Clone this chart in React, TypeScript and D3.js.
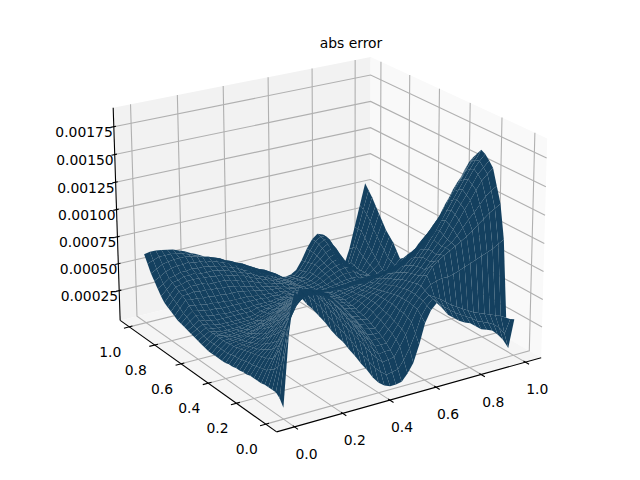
import React from "react";
import * as d3 from "d3";

const xTicks = [0, 0.2, 0.4, 0.6, 0.8, 1.0];
const yTicks = [0, 0.2, 0.4, 0.6, 0.8, 1.0];
const zTicks = [0.00025, 0.0005, 0.00075, 0.001, 0.00125, 0.0015, 0.00175];
const zTickLabels = ["0.00025", "0.00050", "0.00075", "0.00100", "0.00125", "0.00150", "0.00175"];
const xyTickLabels = ["0.0", "0.2", "0.4", "0.6", "0.8", "1.0"];
const gridX = d3.range(41).map((i) => i / 40);
const gridY = d3.range(41).map((i) => i / 40);
// abs error, in units of 1e-5; rows are y = 0..1, columns x = 0..1
const errorRows = [
  [7,69,104,98,91,85,78,71,63,56,50,42,35,27,20,12,6,2,0,0,1,7,15,30,48,58,63,57,50,46,42,39,37,33,29,27,25,20,14,5,30],
  [13,52,88,94,98,94,88,82,74,67,60,53,46,38,31,24,17,12,8,9,10,17,26,38,52,60,65,60,55,51,47,44,41,38,34,32,30,27,23,16,28],
  [16,40,68,85,100,98,96,90,83,76,69,62,55,48,42,35,28,22,17,18,19,27,36,46,56,62,66,63,60,56,52,49,46,43,40,38,36,34,32,30,27],
  [16,35,58,74,88,92,95,91,87,81,75,68,61,54,48,41,34,28,22,23,23,31,39,48,57,63,68,72,74,75,75,76,78,80,82,84,86,88,90,93,96],
  [16,30,46,60,76,85,93,92,90,85,80,74,67,60,53,46,39,33,27,27,27,34,41,50,58,64,70,78,85,89,92,95,98,101,104,108,112,116,120,123,126],
  [16,28,40,52,66,75,84,86,88,85,82,76,70,63,56,49,42,36,30,30,30,36,42,50,58,64,70,76,82,86,91,96,99,104,110,116,121,127,133,137,140],
  [15,25,34,44,55,65,75,80,85,84,83,78,73,67,60,53,45,39,33,32,32,38,44,51,58,64,69,74,78,84,89,95,100,108,115,123,130,138,145,150,154],
  [15,24,32,40,48,58,68,74,80,80,81,78,74,68,62,54,47,42,36,35,34,40,45,52,58,63,68,73,78,84,90,96,102,110,118,126,133,141,149,154,159],
  [15,23,30,36,42,51,60,68,75,77,79,77,74,69,63,56,49,44,38,37,36,41,46,52,57,62,67,72,77,84,90,97,104,112,120,128,136,144,152,158,163],
  [15,22,29,34,39,47,55,62,69,72,75,74,73,69,64,57,50,45,40,39,38,43,47,52,56,61,66,71,76,82,88,95,102,110,118,126,134,142,150,157,165],
  [14,21,28,32,36,43,49,56,62,67,71,71,71,68,64,58,51,46,41,40,39,44,48,52,55,60,64,69,74,80,86,93,100,108,115,123,131,139,147,154,160],
  [14,21,27,30,34,40,45,52,57,62,66,67,68,66,64,58,52,48,43,42,40,44,48,52,54,58,62,67,72,77,83,88,94,102,108,115,123,131,139,147,155],
  [13,20,26,28,31,36,41,47,52,57,61,63,65,64,63,58,53,49,44,43,41,45,48,51,53,57,61,65,69,74,79,84,88,95,102,108,115,123,130,140,149],
  [13,19,25,27,29,33,38,43,48,52,56,59,62,62,61,57,53,50,45,44,42,45,48,50,52,55,59,62,66,70,74,79,82,89,95,101,107,114,121,131,141],
  [12,18,24,26,27,30,34,39,43,48,52,55,58,59,59,56,53,50,46,44,42,45,47,49,51,54,57,60,63,67,70,74,77,83,88,94,100,106,112,122,132],
  [12,18,23,24,26,28,31,36,40,44,48,51,54,56,56,54,52,50,47,45,43,45,46,48,50,52,55,58,60,63,66,68,70,75,80,85,91,97,102,113,125],
  [11,17,22,23,24,27,29,33,36,40,44,48,51,52,53,52,51,49,47,45,43,45,46,48,49,51,53,55,57,59,61,62,62,67,72,77,83,88,92,104,117],
  [11,16,21,22,23,25,27,30,33,36,40,44,47,48,50,50,50,48,46,45,43,44,45,46,48,50,51,52,54,56,57,58,58,62,66,71,75,80,84,95,108],
  [11,16,21,22,22,24,25,28,30,33,36,40,43,45,47,48,48,47,46,45,43,44,44,45,46,48,49,50,51,52,53,54,55,58,61,65,68,72,75,87,100],
  [11,16,20,21,21,22,23,25,27,30,32,36,39,41,44,45,46,46,45,44,42,43,43,44,44,46,47,48,48,48,49,50,51,53,55,58,61,65,69,80,91],
  [11,16,20,20,20,20,21,22,24,26,29,32,35,38,40,42,43,44,44,43,41,42,42,43,43,44,45,45,45,45,45,46,47,48,50,52,55,59,63,72,82],
  [11,16,20,20,19,19,20,21,22,24,26,28,31,34,36,38,40,41,41,40,39,39,39,40,40,41,41,42,42,42,42,42,43,44,46,48,50,53,57,66,75],
  [12,16,20,19,18,18,19,19,20,21,23,25,28,30,33,35,37,38,39,38,37,37,37,37,37,37,38,38,38,38,38,38,39,40,41,43,45,48,52,60,68],
  [13,16,20,18,18,18,18,18,19,20,21,23,25,28,30,32,34,35,36,36,34,34,34,34,34,34,34,34,34,34,34,34,35,36,37,38,40,43,46,54,62],
  [14,17,20,18,17,17,17,17,18,18,19,21,23,25,27,29,31,32,33,33,32,32,31,30,30,30,30,30,30,30,30,30,31,32,33,34,36,38,41,48,56],
  [15,18,21,19,18,18,18,18,18,18,18,20,22,24,25,26,28,29,30,30,30,29,28,28,27,26,26,26,26,26,26,26,28,28,30,30,32,34,36,42,50],
  [16,19,22,20,19,18,18,18,18,18,18,19,21,22,23,24,26,27,28,27,27,26,26,25,24,23,23,23,23,23,23,23,24,25,26,27,28,29,31,37,43],
  [17,20,24,22,21,20,20,20,20,20,20,20,22,22,22,23,24,25,26,25,25,24,24,22,22,20,20,20,20,20,21,21,22,22,23,24,24,25,26,32,38],
  [18,22,26,24,23,22,22,21,21,21,21,21,22,22,22,22,23,23,24,23,23,22,22,20,19,18,18,18,18,18,19,19,19,19,20,20,21,21,21,27,34],
  [19,24,28,27,26,25,25,24,24,24,24,24,24,24,24,23,24,23,24,22,22,21,20,18,18,16,16,17,18,18,19,19,19,18,18,18,18,18,18,24,29],
  [20,25,31,30,29,28,28,27,27,26,26,26,26,25,25,24,24,23,23,22,21,20,19,17,16,15,15,16,17,18,19,19,19,17,16,15,14,15,16,21,26],
  [22,28,34,33,33,32,32,31,31,30,30,30,29,28,27,26,25,24,24,22,21,20,18,16,15,14,15,16,18,20,22,22,22,18,16,14,12,14,15,23,32],
  [24,30,36,36,37,36,36,35,35,34,34,33,32,30,29,27,26,25,24,22,21,19,18,16,14,14,15,17,20,22,24,25,24,20,17,13,10,12,14,25,38],
  [26,32,38,38,40,40,40,38,38,38,38,36,35,33,32,30,28,26,25,23,22,20,18,16,14,14,15,18,21,24,26,27,26,21,17,12,10,14,18,30,42],
  [28,34,40,41,43,43,43,42,42,41,41,39,38,36,35,32,30,28,26,24,22,20,18,15,13,14,15,18,22,25,28,29,28,22,17,12,10,16,22,34,46],
  [32,37,42,43,45,45,46,44,44,44,43,42,40,38,36,34,32,29,27,24,22,20,18,15,12,14,14,18,23,26,30,32,31,23,16,11,10,18,26,39,52],
  [37,40,44,45,47,47,48,47,47,46,45,44,42,40,38,35,33,30,28,25,23,20,18,15,12,13,14,18,24,28,33,35,34,24,14,10,10,20,30,44,58],
  [42,45,48,50,51,51,52,50,50,48,48,46,44,42,40,36,34,32,29,26,24,21,18,15,12,12,12,16,23,29,35,38,36,25,13,10,11,23,35,50,64],
  [47,50,53,54,55,55,55,54,53,51,50,48,46,43,41,38,36,33,30,27,25,22,19,15,11,11,11,15,22,30,37,40,39,26,12,9,12,26,40,55,70],
  [54,56,58,58,58,57,56,54,52,50,48,46,44,40,38,36,33,30,26,23,20,18,16,13,10,10,10,14,21,30,38,41,40,28,15,8,8,23,40,58,75],
  [61,62,62,61,60,59,57,55,52,50,47,44,41,38,36,33,30,26,23,19,16,14,13,11,9,8,9,12,20,30,38,42,40,30,18,8,5,20,40,60,80],
];

const boxCorners = [
  [0, 0, 0, 277, 432],
  [1, 0, 0, 541, 358],
  [0, 1, 0, 120, 320],
  [0, 1, 1, 113, 108],
  [1, 0, 1, 547, 138],
  [1, 1, 1, 371, 57],
];

function solveProjection(): number[] {
  const rows: number[][] = [];
  const rhs: number[] = [];
  for (const [X, Y, Z, u, v] of boxCorners) {
    rows.push([X, Y, Z, 1, 0, 0, 0, 0, -u * X, -u * Y, -u * Z]);
    rhs.push(u);
    rows.push([0, 0, 0, 0, X, Y, Z, 1, -v * X, -v * Y, -v * Z]);
    rhs.push(v);
  }
  const n = 11;
  const A = d3.range(n).map((i) =>
    d3.range(n + 1).map((j) =>
      j < n ? d3.sum(rows, (r) => r[i] * r[j]) : d3.sum(rows, (r, k) => r[i] * rhs[k])
    )
  );
  for (let c = 0; c < n; c++) {
    let p = c;
    for (let r = c + 1; r < n; r++) if (Math.abs(A[r][c]) > Math.abs(A[p][c])) p = r;
    [A[c], A[p]] = [A[p], A[c]];
    for (let r = 0; r < n; r++) {
      if (r === c) continue;
      const f = A[r][c] / A[c][c];
      for (let k = c; k <= n; k++) A[r][k] -= f * A[c][k];
    }
  }
  return d3.range(n).map((i) => A[i][n] / A[i][i]);
}
const P = solveProjection();
const project = (X: number, Y: number, Z: number) => {
  const w = P[8] * X + P[9] * Y + P[10] * Z + 1;
  return [
    (P[0] * X + P[1] * Y + P[2] * Z + P[3]) / w,
    (P[4] * X + P[5] * Y + P[6] * Z + P[7]) / w,
    w,
  ];
};

const bx = d3.scaleLinear().domain([-0.073, 1.073]).range([0, 1]);
const by = d3.scaleLinear().domain([-0.073, 1.073]).range([0, 1]);
const bz = d3.scaleLinear().domain([-0.00003, 0.00192]).range([0, 1]);

const line = d3.line<number[]>().x((d) => d[0]).y((d) => d[1]);
const poly = (pts: number[][]) => line(pts.map((p) => project(p[0], p[1], p[2]))) + "Z";

const FONT = "'DejaVu Sans', sans-serif";
const SURFACE = "#14405f";

export default function App() {
  const cells: { d: string; depth: number }[] = [];
  for (let j = 0; j < gridY.length - 1; j++) {
    for (let i = 0; i < gridX.length - 1; i++) {
      const corners = [
        [i, j],
        [i + 1, j],
        [i + 1, j + 1],
        [i, j + 1],
      ].map(([a, b]) => {
        const row = errorRows[b];
        return [bx(gridX[a]), by(gridY[b]), bz((row[a] ?? row[row.length - 1]) * 1e-5)];
      });
      const depth = d3.mean(corners, (c) => project(c[0], c[1], c[2])[2]) as number;
      cells.push({ d: poly(corners), depth });
    }
  }
  cells.sort((a, b) => b.depth - a.depth);

  const grid = "#b0b0b0";
  return (
    <svg width={640} height={480} style={{ position: "absolute", left: 0, top: 0 }} fontFamily={FONT} fontSize={13.9}>
      <rect width={640} height={480} fill="#fff" />
      <path d={poly([[0, 1, 0], [1, 1, 0], [1, 1, 1], [0, 1, 1]])} fill="#f2f2f2" />
      <path d={poly([[1, 0, 0], [1, 1, 0], [1, 1, 1], [1, 0, 1]])} fill="#f9f9f9" />
      <path d={poly([[0, 0, 0], [1, 0, 0], [1, 1, 0], [0, 1, 0]])} fill="#f5f5f5" />
      {xTicks.map((t) => (
        <path key={"gx" + t} fill="none" stroke={grid} strokeWidth={1.1}
          d={line([project(bx(t), 0, 0), project(bx(t), 1, 0), project(bx(t), 1, 1)])!} />
      ))}
      {yTicks.map((t) => (
        <path key={"gy" + t} fill="none" stroke={grid} strokeWidth={1.1}
          d={line([project(0, by(t), 0), project(1, by(t), 0), project(1, by(t), 1)])!} />
      ))}
      {zTicks.map((t) => (
        <path key={"gz" + t} fill="none" stroke={grid} strokeWidth={1.1}
          d={line([project(0, 1, bz(t)), project(1, 1, bz(t)), project(1, 0, bz(t))])!} />
      ))}
      <g stroke="#000" strokeWidth={1.1} fill="none">
        <path d={line([project(0, 0, 0), project(1, 0, 0)])!} />
        <path d={line([project(0, 0, 0), project(0, 1, 0)])!} />
        <path d={line([project(0, 1, 0), project(0, 1, 1)])!} />
        {xTicks.map((t) => (
          <path key={"tx" + t} d={line([project(bx(t), 0.01, 0), project(bx(t), -0.02, 0)])!} />
        ))}
        {yTicks.map((t) => (
          <path key={"ty" + t} d={line([project(0.012, by(t), 0), project(-0.02, by(t), 0)])!} />
        ))}
        {zTicks.map((t) => (
          <path key={"tz" + t} d={line([project(0.008, 1, bz(t)), project(-0.012, 1, bz(t))])!} />
        ))}
      </g>
      <g>
        {cells.map((c, i) => (
          <path key={i} d={c.d} fill={SURFACE} />
        ))}
      </g>
      {xTicks.map((t, i) => {
        const p = project(bx(t), 0, 0);
        return <text key={"lx" + t} x={p[0] + 12} y={p[1] + 27} textAnchor="middle" dominantBaseline="central">{xyTickLabels[i]}</text>;
      })}
      {yTicks.map((t, i) => {
        const p = project(0, by(t), 0);
        return <text key={"ly" + t} x={p[0] - 19} y={p[1] + 25} textAnchor="middle" dominantBaseline="central">{xyTickLabels[i]}</text>;
      })}
      {zTicks.map((t, i) => {
        const p = project(0, 1, bz(t));
        return <text key={"lz" + t} x={p[0] - 1} y={p[1] + 5.5} textAnchor="end" dominantBaseline="central">{zTickLabels[i]}</text>;
      })}
      <text x={351} y={43} textAnchor="middle" dominantBaseline="central" fontSize={13.9}>abs error</text>
    </svg>
  );
}
